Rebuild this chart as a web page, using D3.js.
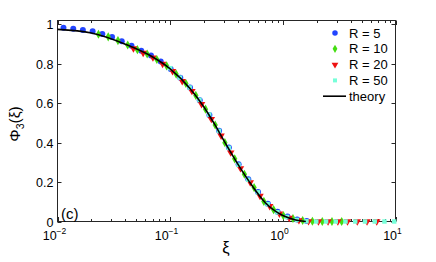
<!DOCTYPE html>
<html>
<head>
<meta charset="utf-8">
<script src="https://cdn.jsdelivr.net/npm/d3@7"></script>
<style>
  body { margin: 0; background: #fff; }
  svg text { font-family: "Liberation Sans", Arial, Helvetica, sans-serif; fill: #000; }
</style>
</head>
<body>
<svg class="canvas" width="436" height="262"></svg>
<script>
// *** DATA ***
var xiR5 = [0.0113, 0.0138, 0.0168, 0.0205, 0.025, 0.0305, 0.0372, 0.0454, 0.0554, 0.0676, 0.0825, 0.101, 0.123, 0.150, 0.183, 0.223, 0.272, 0.332, 0.405, 0.494, 0.603, 0.736, 0.898, 1.10, 1.34, 1.63];
var phiR5 = [0.983, 0.978, 0.972, 0.965, 0.952, 0.936, 0.915, 0.892, 0.866, 0.842, 0.812, 0.774, 0.73, 0.68, 0.615, 0.54, 0.46, 0.375, 0.29, 0.215, 0.15, 0.09, 0.05, 0.025, 0.01, 0.002];

var xiR10 = [0.0231, 0.0282, 0.0344, 0.042, 0.0512, 0.0625, 0.0762, 0.093, 0.113, 0.138, 0.169, 0.206, 0.251, 0.306, 0.374, 0.456, 0.556, 0.679, 0.828, 1.01, 1.23, 1.50, 1.83, 2.24, 2.73, 3.33];
var phiR10 = [0.95, 0.937, 0.918, 0.896, 0.872, 0.85, 0.822, 0.79, 0.748, 0.70, 0.64, 0.57, 0.49, 0.40, 0.318, 0.24, 0.172, 0.102, 0.06, 0.03, 0.015, 0.005, 0.001, 0, 0, 0];

var xiR20 = [0.0472, 0.0576, 0.0703, 0.0857, 0.105, 0.128, 0.156, 0.190, 0.232, 0.283, 0.345, 0.421, 0.514, 0.627, 0.765, 0.933, 1.14, 1.39, 1.69, 2.07, 2.52, 3.08, 3.75, 4.58, 5.59, 6.82];
var phiR20 = [0.878, 0.855, 0.832, 0.80, 0.763, 0.712, 0.662, 0.595, 0.52, 0.436, 0.35, 0.27, 0.198, 0.13, 0.078, 0.04, 0.018, 0.006, 0.001, 0, 0, 0, 0, 0, 0, 0];

var xiR50 = [0.1, 0.122, 0.149, 0.182, 0.222, 0.271, 0.331, 0.404, 0.493, 0.601, 0.733, 0.895, 1.09, 1.33, 1.62, 1.98, 2.42, 2.95, 3.60, 4.39, 5.36, 6.54, 7.98, 9.74];
var phiR50 = [0.778, 0.73, 0.68, 0.617, 0.543, 0.46, 0.374, 0.288, 0.212, 0.148, 0.088, 0.047, 0.023, 0.008, 0.001, 0, 0, 0, 0, 0, 0, 0, 0, 0];

var xiTheory = [0.01, 0.02, 0.04, 0.07, 0.1, 0.15, 0.2, 0.25, 0.3, 0.4, 0.5, 0.7, 1.0, 1.3, 1.6];
var phiTheory = [0.975, 0.957, 0.90, 0.835, 0.775, 0.675, 0.58, 0.49, 0.41, 0.29, 0.205, 0.095, 0.03, 0.008, 0.0];

var yTicks = [0, 0.2, 0.4, 0.6, 0.8, 1];
var yTickLabels = ["0", "0.2", "0.4", "0.6", "0.8", "1"];
var xTicks = [0.01, 0.1, 1, 10];
var xTickExps = ["\u22122", "\u22121", "0", "1"];
var seriesNames = ["R = 5", "R = 10", "R = 20", "R = 50"];

// *** SVG ***
var margin = { left: 57.5, right: 395.5, top: 20.5, bottom: 221.5 };
var colors = ["#2244ff", "#44dd11", "#ee1111", "#77ffd9"];
var shapes = [d3.symbolCircle, d3.symbolDiamond, d3.symbolTriangle, d3.symbolSquare];
var sizes = [28, 24, 24, 20];

var x = d3.scaleLog().domain([0.01, 10]).range([margin.left, margin.right]);
var y = d3.scaleLinear().domain([0, 1.02]).range([margin.bottom, margin.top]);

var svg = d3.select(".canvas");

function zip(xs, ys) {
  return xs.map(function(v, i) { return { xi: v, phi: ys[i] }; });
}
var series = [zip(xiR5, phiR5), zip(xiR10, phiR10), zip(xiR20, phiR20), zip(xiR50, phiR50)];

// --- axes box ---
var axisColor = "#262626";
svg.append("rect")
  .attr("x", margin.left).attr("y", margin.top)
  .attr("width", margin.right - margin.left)
  .attr("height", margin.bottom - margin.top)
  .attr("fill", "none").attr("stroke", axisColor).attr("stroke-width", 1);

// y ticks, both sides, inward
var yt = svg.append("g");
yTicks.forEach(function(t, i) {
  var py = Math.round(y(t)) + 0.5;
  yt.append("line").attr("x1", margin.left).attr("x2", margin.left + 4)
    .attr("y1", py).attr("y2", py).attr("stroke", axisColor);
  yt.append("line").attr("x1", margin.right).attr("x2", margin.right - 4)
    .attr("y1", py).attr("y2", py).attr("stroke", axisColor);
  yt.append("text").attr("x", margin.left - 4).attr("y", py + 4.5)
    .attr("text-anchor", "end").style("font-size", "12.5px").text(yTickLabels[i]);
});

// x ticks (log), major + minor, top and bottom
var xt = svg.append("g");
var minor = [];
for (var d = 0; d < 3; d++) {
  for (var m = 2; m <= 9; m++) minor.push(m * xTicks[d]);
}
minor.forEach(function(t) {
  var px = Math.round(x(t)) + 0.5;
  xt.append("line").attr("x1", px).attr("x2", px)
    .attr("y1", margin.bottom).attr("y2", margin.bottom - 2.5).attr("stroke", axisColor);
  xt.append("line").attr("x1", px).attr("x2", px)
    .attr("y1", margin.top).attr("y2", margin.top + 2.5).attr("stroke", axisColor);
});
xTicks.forEach(function(t, i) {
  var px = Math.round(x(t)) + 0.5;
  xt.append("line").attr("x1", px).attr("x2", px)
    .attr("y1", margin.bottom).attr("y2", margin.bottom - 4.5).attr("stroke", axisColor);
  xt.append("line").attr("x1", px).attr("x2", px)
    .attr("y1", margin.top).attr("y2", margin.top + 4.5).attr("stroke", axisColor);
  var lab = xt.append("text").attr("x", px - 4).attr("y", 240)
    .attr("text-anchor", "middle").style("font-size", "12.5px");
  lab.append("tspan").text("10");
  lab.append("tspan").attr("dy", -6).style("font-size", "8.5px").text(xTickExps[i]);
});

// --- data markers ---
series.forEach(function(s, k) {
  var sym = d3.symbol().type(shapes[k]).size(sizes[k]);
  svg.append("g").selectAll("path")
    .data(s)
    .enter()
      .append("path")
      .attr("d", sym)
      .attr("fill", colors[k])
      .attr("transform", function(d) {
        var rot = k == 2 ? " rotate(180)" : "";
        return "translate(" + x(d.xi) + "," + y(d.phi) + ")" + rot;
      });
});

// --- theory line ---
var line = d3.line()
  .x(function(d) { return x(d.xi); })
  .y(function(d) { return y(d.phi); })
  .curve(d3.curveMonotoneX);
svg.append("path")
  .datum(zip(xiTheory, phiTheory))
  .attr("d", line)
  .attr("fill", "none")
  .attr("stroke", "#000")
  .attr("stroke-width", 1.6);

// --- legend ---
var legend = svg.append("g");
seriesNames.forEach(function(name, k) {
  var ly = 33 + k * 15.8;
  var sym = d3.symbol().type(shapes[k]).size(sizes[k] - 4);
  legend.append("path").attr("d", sym).attr("fill", colors[k])
    .attr("transform", "translate(335," + ly + ")" + (k == 2 ? " rotate(180)" : ""));
  legend.append("text").attr("x", 349).attr("y", ly + 4.5)
    .style("font-size", "13px").text(name);
});
var thy = 33 + 4 * 15.8;
legend.append("line").attr("x1", 323).attr("x2", 346)
  .attr("y1", thy).attr("y2", thy).attr("stroke", "#000").attr("stroke-width", 1.6);
legend.append("text").attr("x", 349).attr("y", thy + 4.5)
  .style("font-size", "13px").text("theory");

// --- labels ---
svg.append("text").attr("x", 61).attr("y", 219)
  .style("font-size", "15px").text("(c)");

svg.append("text").attr("x", 226).attr("y", 253)
  .attr("text-anchor", "middle").style("font-size", "16.5px").text("\u03be");

var ylab = svg.append("text")
  .attr("transform", "translate(20,124) rotate(-90)")
  .attr("text-anchor", "middle").style("font-size", "15.5px");
ylab.append("tspan").text("\u03a6");
ylab.append("tspan").attr("dy", 4).style("font-size", "10.5px").text("3");
ylab.append("tspan").attr("dy", -4).text("(\u03be)");
</script>
</body>
</html>
